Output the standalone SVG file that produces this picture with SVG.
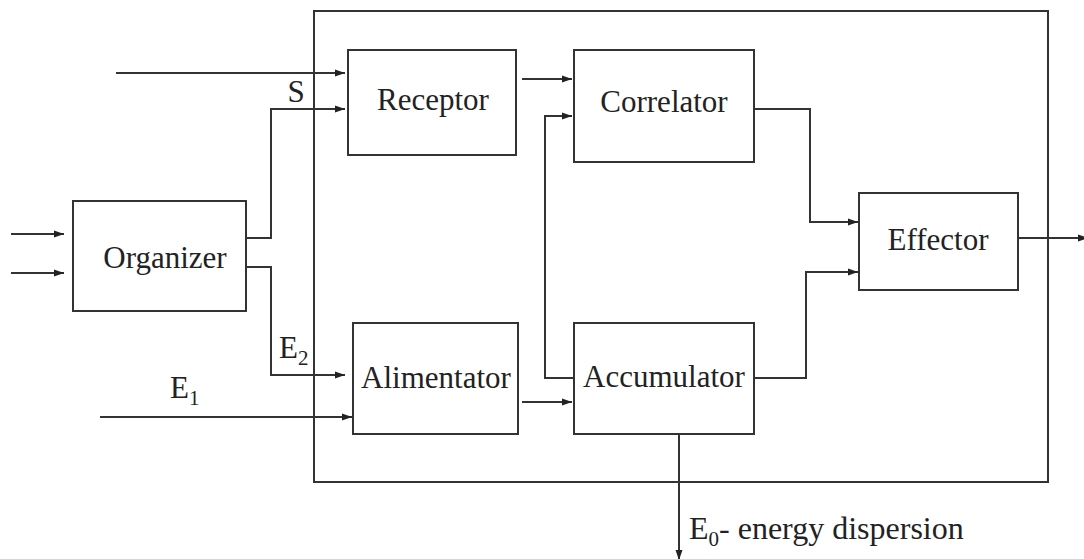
<svg xmlns="http://www.w3.org/2000/svg" width="1084" height="559" viewBox="0 0 1084 559">
<style>
.box{fill:#fff;stroke:#333;stroke-width:2}
.frame{fill:none;stroke:#333;stroke-width:2}
text{font-family:'Liberation Serif','DejaVu Serif','Noto Serif','Times New Roman',serif;fill:#222}
.lbl{font-size:31px;text-anchor:middle}
.t{font-size:31px}
.e0{font-size:32px}
.sub{font-size:21px}
.ca{fill:none;stroke:#333;stroke-width:2;marker-end:url(#ah)}
</style>
<defs>
<marker id="ah" markerUnits="userSpaceOnUse" markerWidth="10" markerHeight="8" refX="10" refY="4" orient="auto">
<path d="M0,0.5 L10,4 L0,7.5 z" fill="#222"/>
</marker>
</defs>
<rect id="system" class="frame" x="314" y="11" width="734" height="471"/>
<g id="connectors">
<path class="ca" d="M116,73 H345"/>
<path class="ca" d="M246,238 H271 V109 H345"/>
<path class="ca" d="M246,267 H271 V375 H345"/>
<path class="ca" d="M100,417 H352"/>
<path class="ca" d="M11,234 H64"/>
<path class="ca" d="M11,273 H64"/>
<path class="ca" d="M522,79 H572"/>
<path class="ca" d="M574,378 H545 V116 H572"/>
<path class="ca" d="M522,402 H572"/>
<path class="ca" d="M754,109 H810 V222 H858"/>
<path class="ca" d="M754,378 H806 V272 H858"/>
<path class="ca" d="M1018,238 H1088"/>
<path class="ca" d="M679,434 V560"/>
</g>
<g id="organizer">
<rect class="box" x="73" y="201" width="173" height="110"/>
<text class="lbl" x="165" y="268">Organizer</text>
</g>
<g id="receptor">
<rect class="box" x="348" y="50" width="168" height="105"/>
<text class="lbl" x="433" y="110">Receptor</text>
</g>
<g id="correlator">
<rect class="box" x="574" y="50" width="180" height="112"/>
<text class="lbl" x="664" y="112">Correlator</text>
</g>
<g id="effector">
<rect class="box" x="859" y="193" width="159" height="97"/>
<text class="lbl" x="938" y="250">Effector</text>
</g>
<g id="alimentator">
<rect class="box" x="353" y="323" width="165" height="111"/>
<text class="lbl" x="436" y="388">Alimentator</text>
</g>
<g id="accumulator">
<rect class="box" x="574" y="323" width="180" height="111"/>
<text class="lbl" x="664" y="387">Accumulator</text>
</g>
<g id="labels">
<text class="t" x="296" y="102" text-anchor="middle">S</text>
<text class="t" x="279" y="358">E<tspan class="sub" dy="7">2</tspan></text>
<text class="t" x="170" y="398">E<tspan class="sub" dy="7">1</tspan></text>
<text class="e0" x="689" y="539">E<tspan class="sub" dy="7">0</tspan><tspan dy="-7">- energy dispersion</tspan></text>
</g>
</svg>
